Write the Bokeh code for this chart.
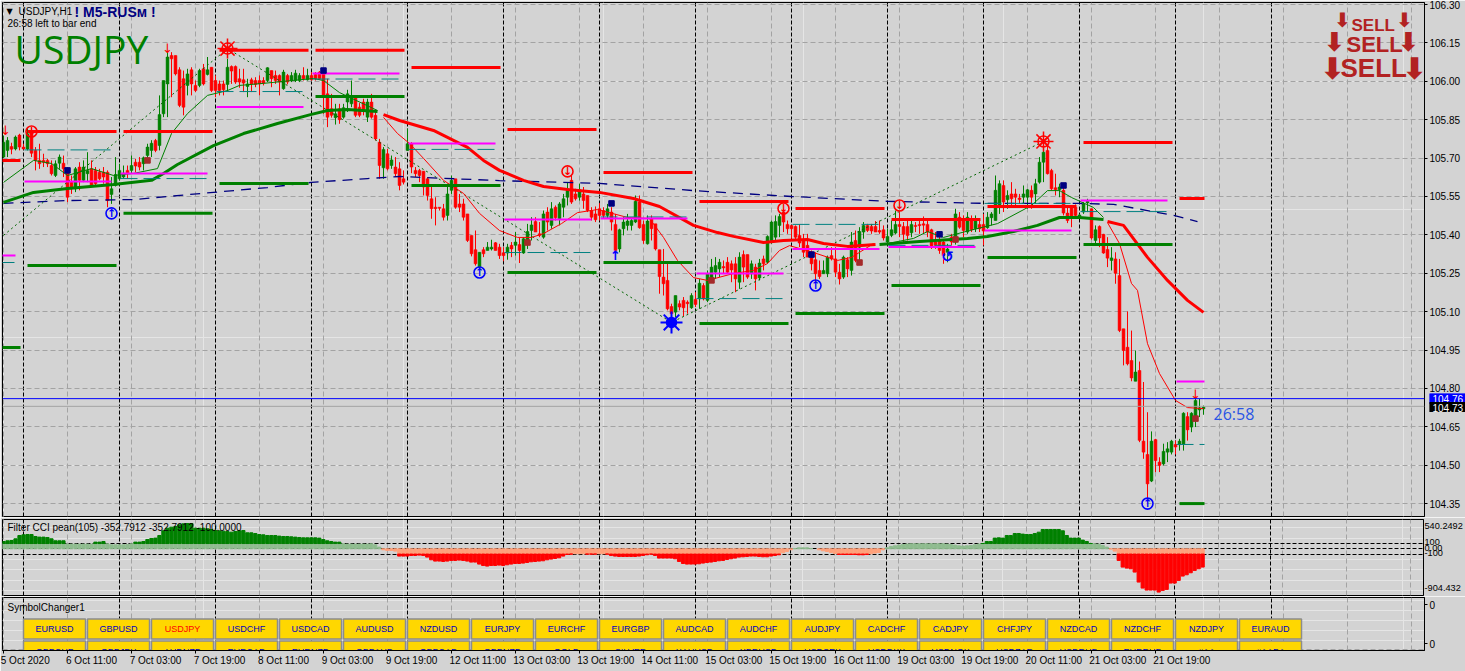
from bokeh.plotting import figure
from bokeh.layouts import column
from bokeh.models import Range1d, Grid, FixedTicker, LinearAxis, NumeralTickFormatter, Span
from bokeh.core.properties import value
from bokeh.embed import file_html
from bokeh.resources import INLINE
import numpy as np

opens = [105.704,105.730,105.745,105.736,105.790,105.743,105.736,105.801,105.730,105.691,
105.691,105.691,105.671,105.632,105.680,105.680,105.658,105.606,105.580,105.665,
105.613,105.639,105.658,105.652,105.645,105.645,105.645,105.558,105.593,105.619,
105.626,105.652,105.652,105.684,105.684,105.678,105.710,105.730,105.769,105.749,
105.873,105.990,106.101,106.101,106.045,106.010,105.984,106.045,105.984,105.984,
106.049,106.027,106.055,106.003,105.990,105.990,105.988,106.058,106.058,106.010,
106.006,105.980,106.006,106.003,106.003,106.003,106.003,106.042,106.023,106.023,
105.971,106.023,106.003,106.003,106.003,106.023,106.006,106.023,106.027,106.036,
106.036,105.951,105.893,105.858,105.893,105.860,105.919,105.912,105.936,105.899,
105.919,105.860,105.919,105.867,105.762,105.662,105.717,105.671,105.665,105.658,
105.619,105.730,105.756,105.652,105.652,105.649,105.619,105.541,105.508,105.508,
105.502,105.476,105.574,105.619,105.521,105.521,105.482,105.398,105.342,105.274,
105.342,105.339,105.345,105.369,105.352,105.330,105.329,105.359,105.359,105.362,
105.329,105.378,105.417,105.452,105.404,105.391,105.489,105.437,105.508,105.463,
105.508,105.547,105.613,105.560,105.547,105.560,105.554,105.495,105.482,105.502,
105.495,105.476,105.489,105.441,105.345,105.424,105.437,105.437,105.450,105.528,
105.441,105.365,105.463,105.443,105.342,105.235,105.222,105.120,105.098,105.131,
105.144,105.137,105.115,105.148,105.150,105.202,105.144,105.222,105.254,105.267,
105.276,105.293,105.287,105.287,105.215,105.323,105.323,105.248,105.274,105.232,
105.306,105.293,105.372,105.391,105.437,105.489,105.441,105.437,105.433,105.398,
105.378,105.359,105.326,105.303,105.261,105.248,105.248,105.319,105.306,105.254,
105.235,105.303,105.261,105.378,105.352,105.411,105.437,105.433,105.433,105.417,
105.420,105.372,105.398,105.407,105.441,105.433,105.433,105.408,105.437,105.441,
105.443,105.441,105.420,105.372,105.378,105.372,105.332,105.391,105.372,105.469,
105.456,105.411,105.454,105.424,105.441,105.441,105.428,105.467,105.456,105.508,
105.593,105.537,105.560,105.560,105.544,105.547,105.547,105.574,105.560,105.606,
105.684,105.730,105.652,105.584,105.576,105.574,105.485,105.506,105.508,105.473,
105.489,105.525,105.502,105.378,105.433,105.402,105.343,105.300,105.306,105.241,
105.033,104.961,104.909,104.828,104.870,104.594,104.542,104.438,104.600,104.512,
104.505,104.551,104.551,104.581,104.580,104.583,104.690,104.649,104.688,104.716,104.720]

closes = [105.762,105.769,105.735,105.782,105.743,105.736,105.795,105.719,105.691,105.678,
105.684,105.678,105.639,105.678,105.704,105.658,105.547,105.580,105.658,105.613,
105.665,105.652,105.593,105.600,105.619,105.626,105.534,105.580,105.636,105.652,
105.641,105.641,105.671,105.669,105.665,105.701,105.743,105.758,105.730,105.870,
106.003,106.095,106.088,106.029,105.906,105.899,106.029,105.990,105.964,106.042,
105.990,106.045,105.964,105.964,105.964,105.967,106.055,106.040,105.997,105.997,
105.993,105.990,105.990,105.988,105.990,105.993,106.053,106.010,106.003,105.997,
106.036,105.997,106.023,106.032,106.023,106.010,106.023,106.006,106.010,106.010,
105.938,105.860,105.867,105.873,105.850,105.897,105.951,105.938,105.867,105.867,
105.886,105.919,105.860,105.775,105.671,105.734,105.658,105.693,105.639,105.593,
105.606,105.756,105.665,105.639,105.632,105.587,105.554,105.502,105.502,105.504,
105.469,105.560,105.613,105.508,105.508,105.469,105.378,105.326,105.287,105.332,
105.326,105.352,105.352,105.339,105.319,105.319,105.352,105.345,105.372,105.339,
105.385,105.413,105.439,105.411,105.398,105.482,105.450,105.502,105.467,105.521,
105.541,105.580,105.528,105.541,105.576,105.534,105.495,105.469,105.459,105.476,
105.476,105.502,105.450,105.339,105.420,105.450,105.454,105.456,105.531,105.428,
105.378,105.454,105.424,105.345,105.237,105.209,105.111,105.092,105.163,105.118,
105.115,105.131,105.163,105.128,105.211,105.150,105.248,105.274,105.280,105.293,
105.271,105.254,105.263,105.228,105.313,105.274,105.235,105.287,105.228,105.290,
105.287,105.394,105.450,105.452,105.472,105.450,105.424,105.424,105.391,105.368,
105.332,105.313,105.287,105.248,105.237,105.261,105.313,105.306,105.254,105.228,
105.313,105.267,105.372,105.300,105.413,105.437,105.417,105.415,105.411,105.411,
105.388,105.394,105.420,105.441,105.433,105.402,105.398,105.441,105.433,105.436,
105.438,105.411,105.352,105.359,105.339,105.319,105.345,105.372,105.482,105.430,
105.417,105.469,105.420,105.456,105.424,105.415,105.469,105.482,105.574,105.600,
105.528,105.554,105.541,105.547,105.538,105.560,105.576,105.547,105.600,105.684,
105.723,105.639,105.580,105.576,105.587,105.485,105.456,105.469,105.476,105.478,
105.521,105.531,105.388,105.420,105.388,105.329,105.309,105.310,105.250,105.026,
104.948,104.896,104.841,104.864,104.597,104.551,104.427,104.594,104.518,104.499,
104.554,104.564,104.594,104.571,104.594,104.703,104.638,104.703,104.753,104.724,104.727]

highs = [105.788,105.782,105.760,105.788,105.795,105.756,105.821,105.821,105.743,105.756,
105.717,105.697,105.691,105.691,105.714,105.710,105.665,105.632,105.665,105.684,
105.691,105.723,105.691,105.665,105.658,105.665,105.652,105.626,105.704,105.678,
105.671,105.671,105.710,105.697,105.704,105.706,105.756,105.770,105.775,105.945,
106.003,106.114,106.114,106.101,106.055,106.042,106.049,106.055,106.003,106.049,
106.068,106.095,106.055,106.023,106.003,106.003,106.088,106.062,106.062,106.049,
106.049,106.010,106.014,106.016,106.023,106.016,106.055,106.042,106.042,106.027,
106.045,106.029,106.036,106.045,106.032,106.055,106.049,106.036,106.036,106.040,
106.040,106.010,105.951,105.912,105.912,105.912,105.967,106.003,105.945,105.915,
105.932,105.932,105.951,105.886,105.775,105.743,105.736,105.710,105.704,105.684,
105.652,105.815,105.762,105.665,105.658,105.649,105.626,105.587,105.547,105.508,
105.521,105.600,105.632,105.619,105.560,105.541,105.482,105.398,105.417,105.332,
105.352,105.372,105.381,105.372,105.365,105.352,105.365,105.372,105.411,105.388,
105.391,105.443,105.469,105.469,105.450,105.495,105.508,105.528,105.515,105.528,
105.560,105.606,105.632,105.580,105.600,105.587,105.554,105.508,105.511,105.524,
105.508,105.521,105.508,105.482,105.424,105.469,105.482,105.463,105.554,105.554,
105.456,105.476,105.476,105.443,105.342,105.345,105.287,105.131,105.163,105.144,
105.157,105.144,105.172,105.176,105.228,105.211,105.261,105.306,105.313,105.306,
105.300,105.313,105.300,105.313,105.332,105.339,105.323,105.300,105.287,105.306,
105.319,105.398,105.456,105.476,105.482,105.502,105.456,105.437,105.437,105.441,
105.404,105.404,105.339,105.332,105.300,105.300,105.319,105.352,105.352,105.287,
105.319,105.313,105.411,105.417,105.430,105.450,105.443,105.443,105.454,105.456,
105.437,105.424,105.456,105.495,105.489,105.450,105.456,105.456,105.450,105.463,
105.472,105.456,105.424,105.411,105.398,105.378,105.365,105.404,105.502,105.489,
105.476,105.489,105.476,105.476,105.456,105.482,105.489,105.489,105.632,105.613,
105.613,105.574,105.606,105.580,105.560,105.593,105.580,105.593,105.619,105.704,
105.749,105.756,105.658,105.639,105.600,105.593,105.508,105.515,105.519,105.482,
105.528,105.541,105.502,105.437,105.437,105.404,105.391,105.352,105.332,105.306,
105.033,105.101,105.026,104.948,104.905,104.825,104.707,104.632,104.603,104.531,
104.584,104.590,104.599,104.596,104.603,104.707,104.707,104.707,104.759,104.759,104.733]

lows = [105.700,105.704,105.715,105.730,105.730,105.733,105.730,105.704,105.652,105.658,
105.665,105.665,105.632,105.626,105.658,105.626,105.528,105.560,105.567,105.574,
105.606,105.606,105.587,105.593,105.613,105.600,105.508,105.521,105.589,105.613,
105.619,105.619,105.639,105.645,105.652,105.652,105.697,105.704,105.723,105.730,
105.860,105.860,105.938,106.023,105.899,105.867,105.945,105.945,105.958,105.977,
105.984,106.023,105.958,105.938,105.945,105.945,105.962,105.990,105.990,105.975,
105.958,105.938,105.958,105.977,105.945,105.984,105.997,105.977,105.990,105.945,
105.967,105.988,105.997,105.997,105.997,106.003,106.003,106.003,106.003,106.006,
105.873,105.821,105.858,105.831,105.834,105.854,105.880,105.899,105.860,105.860,
105.867,105.841,105.854,105.769,105.619,105.619,105.652,105.658,105.626,105.574,
105.597,105.730,105.641,105.626,105.606,105.554,105.534,105.463,105.437,105.495,
105.456,105.456,105.560,105.502,105.489,105.456,105.372,105.316,105.280,105.267,
105.313,105.339,105.339,105.339,105.306,105.297,105.303,105.313,105.319,105.290,
105.326,105.345,105.378,105.411,105.391,105.385,105.417,105.424,105.456,105.437,
105.469,105.515,105.521,105.534,105.534,105.502,105.489,105.456,105.450,105.456,
105.463,105.463,105.417,105.339,105.332,105.398,105.417,105.417,105.446,105.424,
105.365,105.362,105.378,105.339,105.170,105.163,105.105,105.066,105.079,105.105,
105.081,105.092,105.111,105.118,105.111,105.144,105.137,105.215,105.228,105.235,
105.248,105.248,105.215,105.176,105.189,105.215,105.228,105.228,105.183,105.222,
105.261,105.287,105.365,105.378,105.391,105.411,105.404,105.385,105.378,105.352,
105.313,105.313,105.261,105.215,105.228,105.248,105.235,105.300,105.235,105.206,
105.228,105.235,105.241,105.293,105.293,105.385,105.411,105.404,105.411,105.404,
105.378,105.365,105.391,105.402,105.391,105.372,105.378,105.391,105.411,105.404,
105.404,105.391,105.345,105.345,105.326,105.287,105.293,105.359,105.362,105.424,
105.391,105.404,105.411,105.411,105.411,105.359,105.424,105.437,105.456,105.482,
105.489,105.502,105.515,105.515,105.521,105.521,105.502,105.502,105.521,105.600,
105.606,105.636,105.574,105.554,105.547,105.476,105.446,105.430,105.469,105.469,
105.482,105.489,105.381,105.359,105.352,105.326,105.274,105.261,105.209,105.020,
104.890,104.890,104.828,104.828,104.590,104.525,104.355,104.434,104.473,104.473,
104.499,104.512,104.542,104.542,104.557,104.557,104.596,104.629,104.649,104.688,104.697]

cci = [139,152,158,190,253,266,272,272,234,222,222,215,190,152,152,152,
89,89,89,89,89,89,89,127,127,139,95,76,76,76,76,82,95,127,127,139,177,196,203,253,
342,392,411,424,456,475,481,481,392,392,392,380,367,348,342,335,329,316,329,342,
348,304,304,291,272,266,253,253,253,241,234,234,228,222,215,209,209,209,209,203,
177,152,139,127,127,95,89,89,89,89,89,89,95,76,32,
-19,-32,-32,-44,-139,-139,-139,-127,-127,-120,-127,-158,-209,-234,-234,-241,-234,-222,-222,-215,
-222,-234,-253,-253,-291,-317,-329,-317,-317,-310,
-317,-304,-291,-279,-279,-272,-260,-247,-241,-234,-228,-209,-196,-184,-171,
-139,-108,-101,-95,-95,-95,-101,-101,-101,-95,-95,-101,-127,-139,-146,-146,-146,-146,-146,
-139,-127,-114,-101,-127,-177,-177,-177,-177,-190,-241,-279,-291,-291,-291,-285,-272,-260,-253,
-241,-228,-222,-203,-190,-177,-158,-152,-146,-139,-139,-146,-152,-152,-139,-127,-114,-76,-51,-19,
6,19,19,19,6,0,-19,-38,-51,-70,-89,-108,-108,-108,-108,-108,-114,-114,-108,-95,-82,-70,-19,
19,44,57,70,82,89,95,95,95,95,95,95,95,95,95,89,82,70,57,51,57,63,76,89,101,
139,139,203,209,203,253,253,291,291,279,272,272,291,316,367,367,367,367,367,342,253,
203,203,203,165,139,101,95,89,63,32,-6,-44,-222,-348,-367,-380,-443,-633,-747,
-785,-785,-785,-823,-791,-772,-652,-652,-601,-519,-494,-456,-411,-380,-348]

ma_slow_up1_bars = [0,7.5,16,27.5,37,40,43.5,52.5,60,68.5,76.75,81,86,93.5]
ma_slow_up1 = [105.527,105.566,105.581,105.597,105.613,105.640,105.675,105.749,105.796,105.835,105.870,105.886,105.890,105.882]
ma_slow_dn1_bars = [95,99,107.5,116,120,124,130,135,141,149,157.5,164,172.5,178.5,182.5,190,195,201,205,211,218]
ma_slow_dn1 = [105.870,105.847,105.808,105.742,105.691,105.652,105.613,105.589,105.577,105.566,105.542,105.511,105.437,105.409,105.394,105.370,105.378,105.382,105.366,105.355,105.362]
ma_slow_up2_bars = [219,229,241,246,252.5,258.5,264,269,275]
ma_slow_up2 = [105.362,105.374,105.386,105.394,105.413,105.437,105.468,105.468,105.460]
ma_slow_dn2_bars = [276,280,286,291,296,300]
ma_slow_dn2 = [105.452,105.437,105.312,105.222,105.144,105.097]

ma_fast_up1_bars = [0,7.5,12,16,22,27.5,32.5,38.5,42,46,51,56,59,65,72,77.5,80,84,93.5]
ma_fast_up1 = [105.605,105.691,105.679,105.632,105.659,105.632,105.640,105.659,105.796,105.874,105.945,105.964,105.984,105.992,106.003,106.011,106.003,105.956,105.886]
ma_fast_dn1_bars = [95,98.5,101.5,105,110,115,119,124,128.5,132,135,139.5,143.5,148.5,156,161.5,165,168.5,172.5,176,182.5,187.5,191,194,196.5,202.5,208.5,212,217.5]
ma_fast_dn1 = [105.859,105.796,105.757,105.699,105.613,105.562,105.484,105.417,105.390,105.390,105.405,105.444,105.487,105.499,105.468,105.464,105.390,105.300,105.233,105.222,105.249,105.261,105.288,105.339,105.358,105.331,105.300,105.312,105.366]
ma_fast_up2_bars = [221,227.5,231,235,241.5,248.5,257,261,264,267,272.5,275]
ma_fast_up2 = [105.366,105.386,105.413,105.390,105.417,105.444,105.515,105.573,105.573,105.546,105.507,105.468]
ma_fast_dn2_bars = [276,279,282,283.5,286,289,293,296,300]
ma_fast_dn2 = [105.448,105.366,105.210,105.183,104.975,104.858,104.753,104.725,104.721]

ma_long_bars = [0,16,32.5,52.5,66,77,91,99,124,149,172.5,197,221,246,269,277.5,286,292.5,298.5]
ma_long = [105.523,105.534,105.538,105.566,105.585,105.605,105.620,105.628,105.612,105.601,105.573,105.550,105.531,105.523,105.523,105.519,105.495,105.476,105.452]

zigzag_bars = [0,56,167,260]
zigzag = [105.398,106.128,105.058,105.765]

day_starts = [-19,5,29,53,77,101,125,149,173,197,221,245,269,293]
resistance = [105.691,105.804,105.804,106.121,106.121,106.054,105.812,105.644,105.530,105.503,105.460,105.511,105.761,105.542]
support = [104.960,105.280,105.484,105.601,105.941,105.593,105.253,105.292,105.054,105.093,105.202,105.312,105.362,104.350]
pivot = [105.319,105.609,105.640,105.900,106.031,105.757,105.460,105.464,105.249,105.345,105.353,105.417,105.534,104.827]
midline = [105.292,105.732,105.620,105.960,106.009,105.734,105.331,105.470,105.151,105.441,105.359,105.523,105.491,104.581]

navy_sq_bars = [16,80,152,202,234,265]
navy_sq = [105.652,106.042,105.523,105.323,105.402,105.593]
brown_sq_bars = [36,131,177,214,238,298]
brown_sq = [105.691,105.370,105.222,105.292,105.382,104.682]
sell_ring_bars = [7,141,195,224]
sell_ring = [105.804,105.648,105.503,105.515]
buy_ring_bars = [27,119,203,286]
buy_ring = [105.484,105.253,105.202,104.350]
sell_star_bars = [56,260]
sell_star = [106.128,105.765]
buy_star_bars = [167]
buy_star = [105.058]
sell_arrow_bars = [0.5,41,298]
sell_arrow = [105.808,106.128,104.776]
buy_arrow_bars = [153]
buy_arrow = [105.319]
turn_bars = [236]
turn = [105.312]

ask_bid = ["104.76", "104.73"]
price_ticks = [106.30,106.15,106.00,105.85,105.70,105.55,105.40,105.25,105.10,104.95,104.80,104.65,104.50,104.35]
time_labels = ["5 Oct 2020","6 Oct 11:00","7 Oct 03:00","7 Oct 19:00","8 Oct 11:00","9 Oct 03:00","9 Oct 19:00",
               "12 Oct 11:00","13 Oct 03:00","13 Oct 19:00","14 Oct 11:00","15 Oct 03:00","15 Oct 19:00",
               "16 Oct 11:00","19 Oct 03:00","19 Oct 19:00","20 Oct 11:00","21 Oct 03:00","21 Oct 19:00"]
symbols_row1 = ["EURUSD","GBPUSD","USDJPY","USDCHF","USDCAD","AUDUSD","NZDUSD","EURJPY","EURCHF","EURGBP",
                "AUDCAD","AUDCHF","AUDJPY","CADCHF","CADJPY","CHFJPY","NZDCAD","NZDCHF","NZDJPY","EURAUD"]
symbols_row2 = ["GBPCHF","GBPJPY","AUDNZD","EURCAD","EURNZD","GBPAUD","GBPCAD","GBPNZD","GOLD","SILVER",
                "XAUUSD","XBRUSD","USDSEK","USDDKK","USDNOK","USDZAR","USDRUB","EURRUB","#AA","#AABA"]

BG = "#d3d3d3"
GREEN = "#008000"
RED = "#ff0000"
FONT = "Liberation Sans"
F = value(FONT)

x_range = Range1d(-0.25, 355.25)
n = min(len(opens), len(highs), len(lows), len(closes))
bars = np.arange(n)
o, h, l, c = [np.array(a[:n]) for a in (opens, highs, lows, closes)]
up = c >= o

X = lambda px: (px - 3) / 4
Y = lambda py: 106.316 - py * 0.003908
YC = lambda py: (548.3 - py) / 0.0526
YB = lambda py: 650 - py


def base(fh, top, bottom, yr):
    p = figure(width=1465, height=fh + top + bottom, frame_width=1422, frame_height=fh,
               x_range=x_range, y_range=yr, x_axis_location=None, y_axis_location=None,
               toolbar_location=None, output_backend="svg",
               min_border_left=2, min_border_right=41, min_border_top=top, min_border_bottom=bottom,
               background_fill_color=BG, border_fill_color=BG,
               outline_line_color="black", outline_line_width=1)
    p.add_layout(Grid(dimension=0, ticker=FixedTicker(ticks=list(range(0, 353, 16))),
                      grid_line_color="#a3a3a3", grid_line_dash="5 3"))
    p.add_layout(Grid(dimension=0, ticker=FixedTicker(ticks=list(range(5, 318, 24))),
                      grid_line_color="black", grid_line_dash="4 2"))
    return p


def right_axis(p, ticks, tick_out=3, standoff=2, size="10px", **kw):
    ax = LinearAxis(ticker=FixedTicker(ticks=ticks), major_tick_in=0, major_tick_out=tick_out,
                    minor_tick_line_color=None, major_label_standoff=standoff,
                    major_label_text_font=FONT, major_label_text_font_size=size,
                    major_label_text_color="black", axis_line_color="black", **kw)
    p.add_layout(ax, "right")
    return ax


def note(p, x, y, txt, color="black", size="10px", font=FONT, style="normal", align="left"):
    p.text([x], [y], text=[txt], text_color=color, text_font=value(font), text_font_size=size,
           text_font_style=style, text_align=align, text_baseline="middle")


# ---------- main pane ----------
p1 = base(514, 2, 1, Range1d(104.2995, 106.308))
p1.add_layout(Grid(dimension=1, ticker=FixedTicker(ticks=price_ticks),
                   grid_line_color="#a3a3a3", grid_line_dash="5 3"))
right_axis(p1, price_ticks, formatter=NumeralTickFormatter(format="0.00"))

colors = [GREEN if u else RED for u in up]
p1.segment(bars, h, bars, l, color=colors, line_width=1)
p1.vbar(bars, 0.72, np.maximum(o, c), np.minimum(o, c), fill_color=colors, line_color=colors, line_width=0.5)

p1.line(ma_long_bars, ma_long, line_color="#000080", line_width=1.3, line_dash="10 7")
p1.line(zigzag_bars, zigzag, line_color="#006400", line_width=1, line_dash="2 3")
for bx, vy, col in [(ma_fast_up1_bars, ma_fast_up1, GREEN), (ma_fast_dn1_bars, ma_fast_dn1, RED),
                    (ma_fast_up2_bars, ma_fast_up2, GREEN), (ma_fast_dn2_bars, ma_fast_dn2, RED)]:
    p1.line(bx, vy, line_color=col, line_width=1)
for bx, vy, col in [(ma_slow_up1_bars, ma_slow_up1, GREEN), (ma_slow_dn1_bars, ma_slow_dn1, RED),
                    (ma_slow_up2_bars, ma_slow_up2, GREEN), (ma_slow_dn2_bars, ma_slow_dn2, RED)]:
    p1.line(bx, vy, line_color=col, line_width=3)

days = np.array(day_starts, dtype=float)
thick_x0 = days + 1
thick_x1 = np.minimum(days + 23.25, 300.25)
thin_x0 = days + 0.25
thin_x1 = np.minimum(days + 22, 300.25)
p1.segment(thin_x0, midline, thin_x1, midline, line_color="#008080", line_width=1, line_dash="17 6")
p1.segment(thin_x0, pivot, thin_x1, pivot, line_color="#ff00ff", line_width=2)
p1.segment(thick_x0, resistance, thick_x1, resistance, line_color=RED, line_width=3)
p1.segment(thick_x0, support, thick_x1, support, line_color=GREEN, line_width=3)

p1.add_layout(Span(location=104.76, dimension="width", line_color="#0000ff", line_width=1))
p1.add_layout(Span(location=104.73, dimension="width", line_color="#a3a3a3", line_width=1))

p1.scatter(navy_sq_bars, navy_sq, marker="square", size=5.5, color="#000080")
p1.scatter(brown_sq_bars, brown_sq, marker="square", size=5.5, color="#a52a2a")
p1.scatter(sell_ring_bars, sell_ring, marker="circle", size=11, fill_color=None, line_color=RED, line_width=1.6)
p1.text(sell_ring_bars, sell_ring, text=["\u2193"] * len(sell_ring), text_color=RED, text_font=value("DejaVu Sans"),
        text_font_size="11px", text_font_style="bold", text_align="center", text_baseline="middle")
p1.scatter(buy_ring_bars, buy_ring, marker="circle", size=11, fill_color=None, line_color="#0000ff", line_width=1.6)
p1.text(buy_ring_bars, buy_ring, text=["\u2191"] * len(buy_ring), text_color="#0000ff", text_font=value("DejaVu Sans"),
        text_font_size="11px", text_font_style="bold", text_align="center", text_baseline="middle")
p1.text(turn_bars, turn, text=["\u21ba"], text_color="#0000ff", text_font=value("DejaVu Sans"),
        text_font_size="15px", text_font_style="bold", text_align="center", text_baseline="middle")
p1.scatter(sell_star_bars, sell_star, marker="asterisk", size=20, line_color=RED, line_width=1.5)
p1.scatter(sell_star_bars, sell_star, marker="circle_x", size=11, fill_color=None, line_color=RED, line_width=1.5)
p1.scatter(buy_star_bars, buy_star, marker="asterisk", size=22, line_color="#0000ff", line_width=2)
p1.scatter(buy_star_bars, buy_star, marker="circle_x", size=10, fill_color="#0000ff", line_color="#0000ff", line_width=1.5)
p1.text(sell_arrow_bars, sell_arrow, text=["\u2193"] * len(sell_arrow), text_color=RED, text_font=value("DejaVu Sans"),
        text_font_size="13px", text_align="center", text_baseline="middle")
p1.text(buy_arrow_bars, buy_arrow, text=["\u2191"] * len(buy_arrow), text_color="#0000ff", text_font=value("DejaVu Sans"),
        text_font_size="13px", text_font_style="bold", text_align="center", text_baseline="middle")

note(p1, X(6), Y(11), "\u25bc", size="8px", font="DejaVu Sans")
note(p1, X(18), Y(11), "USDJPY,H1")
note(p1, X(74), Y(11.5), "! M5-RUS\u043c !", color="#000080", size="14px", style="bold")
note(p1, X(7), Y(23), "26:58 left to bar end")
note(p1, X(14), Y(48), "USDJPY", color=GREEN, size="39px", font="Open Sans")
note(p1, X(1213), Y(414), "26:58", color="#2a55e5", size="16px", font="Open Sans")

for sell_x, arrow_l, arrow_r, arrow_y, text_y, size, asize in [(1351, 1342, 1404, 20, 25, "17px", "20px"),
                                                               (1346, 1334, 1408, 42, 44, "22px", "26px"),
                                                               (1340, 1332, 1414, 68, 68, "26px", "30px")]:
    note(p1, X(sell_x), Y(text_y), "SELL", color="#b22222", size=size, style="bold")
    note(p1, X(arrow_l), Y(arrow_y), "\u2b07", color="#b22222", size=asize, font="DejaVu Sans", style="bold", align="center")
    note(p1, X(arrow_r), Y(arrow_y), "\u2b07", color="#b22222", size=asize, font="DejaVu Sans", style="bold", align="center")

# ---------- CCI pane ----------
p2 = base(76, 2, 1, Range1d(-888, 557))
p2.add_layout(Grid(dimension=1, ticker=FixedTicker(ticks=[100, 0, -100]), grid_line_color="black", grid_line_dash="4 2"))
cci_label_pos = [YC(526), YC(542), YC(548), YC(553), YC(588)]
cci_label_txt = ["540.2492", "100", "0.00", "-100", "-904.432"]
right_axis(p2, cci_label_pos, tick_out=0, standoff=1, size="9.2px",
           major_label_overrides={v: t for v, t in zip(cci_label_pos, cci_label_txt)})
cci_v = np.array(cci[:n], dtype=float)
cb = np.arange(len(cci_v))
pos, neg, over, under = cci_v > 0, cci_v < 0, cci_v > 100, cci_v < -100
p2.vbar(cb[pos], 0.8, np.minimum(cci_v[pos], 100), 0, color="#8fbc8f")
p2.vbar(cb[neg], 0.8, 0, np.maximum(cci_v[neg], -100), color="#ffa07a")
p2.vbar(cb[over], 0.8, cci_v[over], 100, color=GREEN)
p2.vbar(cb[under], 0.8, -100, cci_v[under], color=RED)
note(p2, X(7), YC(527), "Filter CCI pean(105)  -352.7912 -352.7912 -100.0000")

# ---------- symbol changer pane ----------
p3 = base(53, 1, 21, Range1d(0, 53))
p3.add_layout(Grid(dimension=1, ticker=FixedTicker(ticks=[1]), grid_line_color="#a3a3a3", grid_line_dash="5 3"))
right_axis(p3, [46, 7], major_label_overrides={46: "0", 7: "0"})
for row, top_py, text_py in [(symbols_row1, 618.5, 628.5), (symbols_row2, 640.5, 651)]:
    left = [5 + 16 * i for i in range(len(row))]
    right = [v + 15.5 for v in left]
    p3.quad(left=left, right=right, top=YB(top_py), bottom=YB(top_py + 20),
            fill_color="#ffd700", line_color="#8c8c8c", line_width=1.5)
    p3.text([v + 7.75 for v in left], [YB(text_py)] * len(row), text=row,
            text_color=[RED if s == "USDJPY" else "#0000c0" for s in row],
            text_font=F, text_font_size="9px", text_align="center", text_baseline="middle")
note(p3, X(7), YB(607), "SymbolChanger1")

tick_axis = LinearAxis(ticker=FixedTicker(ticks=list(range(0, 289, 16))), major_tick_in=0, major_tick_out=3,
                       minor_tick_line_color=None, major_label_text_font_size="0px", major_label_standoff=0,
                       axis_line_color="black")
tick_axis.major_label_overrides = {t: "" for t in range(0, 289, 16)}
p3.add_layout(tick_axis, "below")
label_pos = [16 * k + (len(t) * 4.55 / 2 - 1) / 4 for k, t in enumerate(time_labels)]
label_axis = LinearAxis(ticker=FixedTicker(ticks=label_pos), major_tick_line_color=None, minor_tick_line_color=None,
                        axis_line_color=None, major_label_standoff=-5, major_label_text_font=FONT,
                        major_label_text_font_size="10px", major_label_text_color="black",
                        major_label_overrides={v: t for v, t in zip(label_pos, time_labels)})
p3.add_layout(label_axis, "below")

# ---------- current-price tags over the right scale ----------
tags = figure(width=38, height=19, frame_width=38, frame_height=19, x_range=Range1d(0, 38), y_range=Range1d(0, 19),
              x_axis_location=None, y_axis_location=None, toolbar_location=None, output_backend="svg",
              min_border_left=0, min_border_right=0, min_border_top=0, min_border_bottom=0,
              outline_line_color=None, background_fill_color=BG, border_fill_color=BG,
              styles={"position": "absolute", "left": "1427px", "top": "393px", "z-index": "10",
                      "width": "38px", "height": "19px", "min-width": "38px", "min-height": "19px",
                      "overflow": "visible", "grid-column": "1 / -1", "grid-row": "4"})
tags.grid.visible = False
tags.quad(left=[0], right=[38], bottom=[9], top=[19], color="#0000ff")
tags.text([3], [14], text=[ask_bid[0]], text_color="white", text_font=F, text_font_size="10px", text_baseline="middle")
tags.quad(left=[0], right=[38], bottom=[0], top=[10], color="black")
tags.text([3], [5], text=[ask_bid[1]], text_color="white", text_font=F, text_font_size="10px", text_baseline="middle")

page = column(p1, p2, p3, tags, spacing=0, width=1465, styles={"position": "relative", "overflow": "visible"})
open("out.html", "w").write(file_html(page, INLINE))
